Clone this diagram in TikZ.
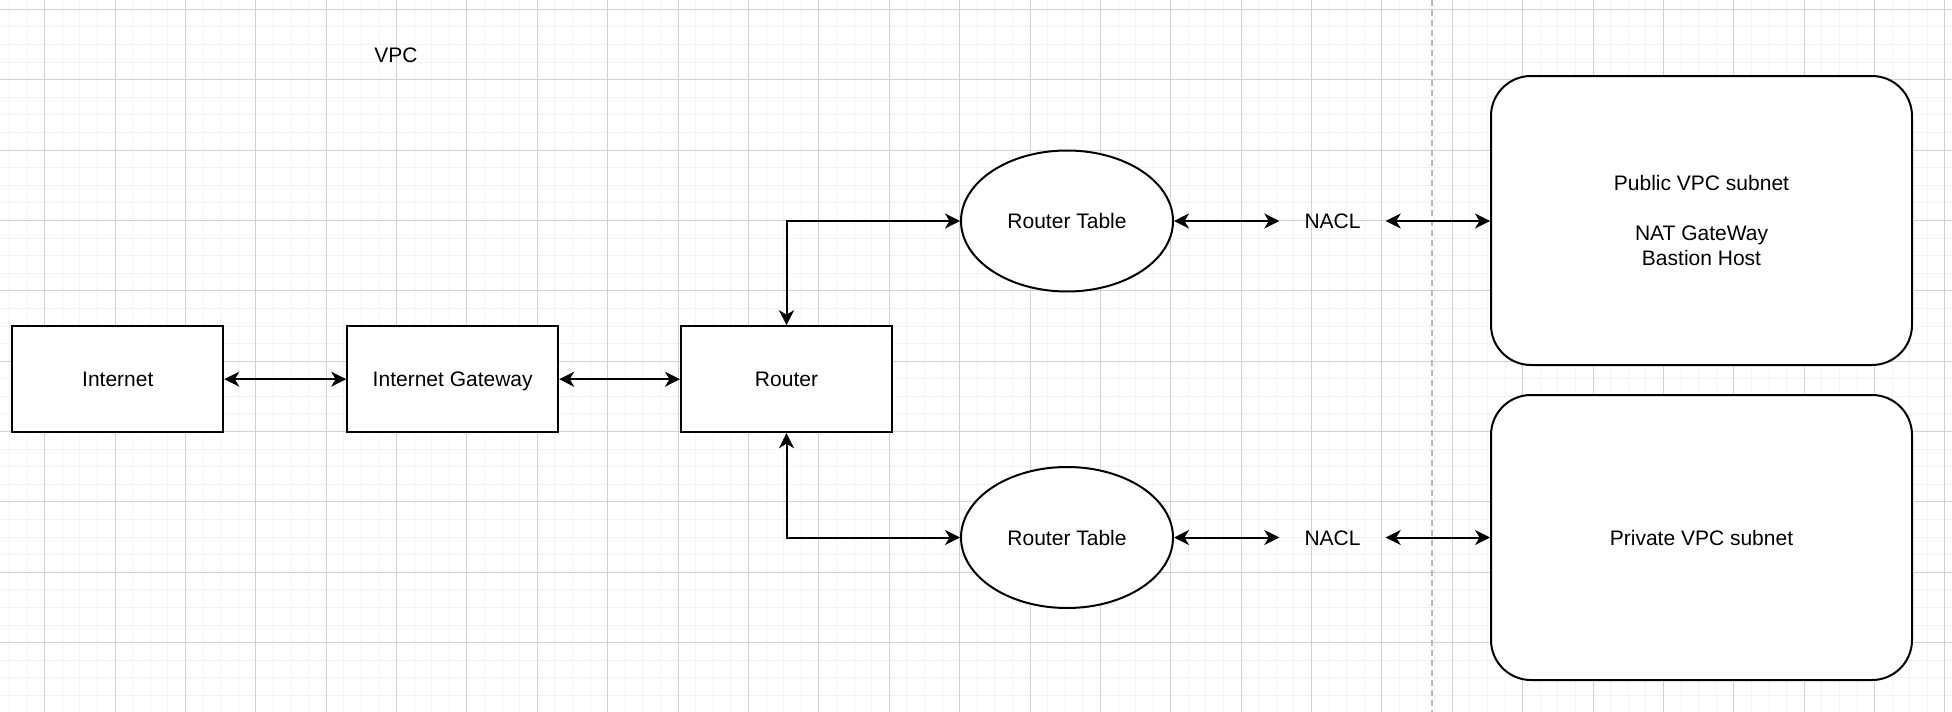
\documentclass[tikz,border=0pt]{standalone}
\usepackage{fontspec}
\setmainfont{Liberation Sans}
\usetikzlibrary{arrows.meta,shapes.geometric}
\definecolor{gridminor}{HTML}{F3F3F3}
\definecolor{gridmajor}{HTML}{D2D2D2}
\definecolor{dashgray}{HTML}{B8B8B8}
\begin{document}
\begin{tikzpicture}[x=1pt,y=-1pt,
  font=\fontsize{21}{25.5}\selectfont,
  oneline/.style={text height=15pt, text depth=0pt},
  box/.style={draw, oneline, line width=2pt, fill=white, minimum width=211pt, minimum height=106pt, inner sep=0pt},
  oval/.style={draw, oneline, ellipse, line width=2pt, fill=white, minimum width=212pt, minimum height=141pt, inner sep=0pt},
  subnet/.style={draw, line width=2pt, fill=white, rounded corners=40pt, minimum width=421pt, inner sep=0pt, align=center},
  lbl/.style={oneline, minimum width=106pt, inner sep=0pt},
  arr/.style={{Stealth[length=15pt,width=15pt,inset=4.5pt]}-{Stealth[length=15pt,width=15pt,inset=4.5pt]}, line width=2pt},
  gmin/.style={gridminor, line width=1pt},
  gmaj/.style={gridmajor, line width=1pt}]
\useasboundingbox (0,0) rectangle (1952,712);
\fill[white] (0,0) rectangle (1952,712);
\foreach \k in {0,...,110} \draw[gmin] ({9.51+17.595*\k},0) -- ++(0,712);
\foreach \k in {0,...,40} \draw[gmin] (0,{9.3+17.595*\k}) -- ++(1952,0);
\foreach \k in {0,...,27} \draw[gmaj] ({44.7+70.38*\k},0) -- ++(0,712);
\foreach \k in {0,...,10} \draw[gmaj] (0,{9.3+70.38*\k}) -- ++(1952,0);
\draw[dashgray, line width=1.5pt, dash pattern=on 6pt off 4pt] (1432,0) -- (1432,712);

\node[oneline] (vpc) at (396,55) {VPC};
\node[box] (inet) at (117.8,379.2) {Internet};
\node[box] (igw) at (452.7,379.2) {Internet Gateway};
\node[box] (router) at (786.5,379.2) {Router};
\node[oval] (rt1) at (1067,221) {Router Table};
\node[oval] (rt2) at (1067,537.5) {Router Table};
\node[lbl] (nacl1) at (1332.5,221) {NACL};
\node[lbl] (nacl2) at (1332.5,537.5) {NACL};
\node[subnet, minimum height=289pt] (pub) at (1701.5,220.5) {Public VPC subnet\\[24.5pt]NAT GateWay\\Bastion Host};
\node[subnet, oneline, minimum height=285pt] (priv) at (1701.5,537.5) {Private VPC subnet};

\draw[arr] (inet) -- (igw);
\draw[arr] (igw) -- (router);
\draw[arr] (router.north) |- (rt1.west);
\draw[arr] (router.south) |- (rt2.west);
\draw[arr] (rt1) -- (nacl1);
\draw[arr] (rt2) -- (nacl2);
\draw[arr] (nacl1) -- (pub.west |- nacl1);
\draw[arr] (nacl2) -- (priv.west |- nacl2);
\end{tikzpicture}
\end{document}
